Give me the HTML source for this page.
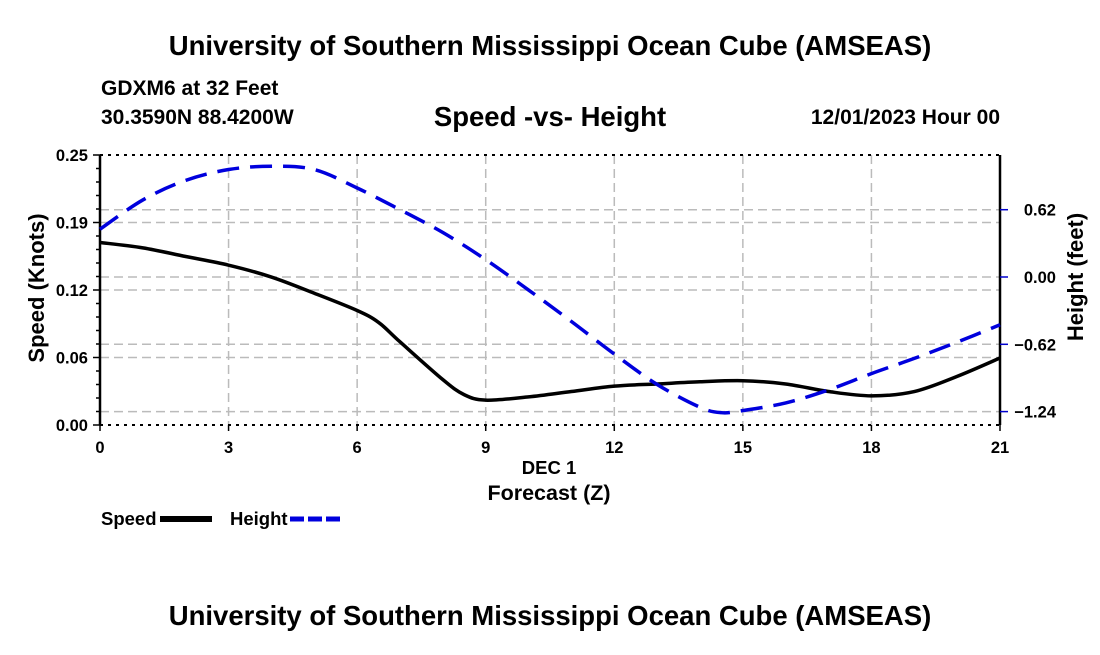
<!DOCTYPE html>
<html><head><meta charset="utf-8"><style>
body{margin:0;background:#fff}
svg text{font-family:"Liberation Sans",sans-serif;font-weight:bold}
</style></head><body>
<svg id="chart" width="1100" height="650" xmlns="http://www.w3.org/2000/svg">
<rect width="1100" height="650" fill="#fff"/>
<text x="550" y="55" font-size="27.5" text-anchor="middle">University of Southern Mississippi Ocean Cube (AMSEAS)</text>
<text x="101" y="95" font-size="21">GDXM6 at 32 Feet</text>
<text x="101" y="124" font-size="21">30.3590N  88.4200W</text>
<text x="550" y="126" font-size="27.5" text-anchor="middle">Speed -vs- Height</text>
<text x="1000" y="124" font-size="21" text-anchor="end">12/01/2023 Hour 00</text>
<g id="grid"></g>
<g id="axes"></g>
<g id="series"></g>
<text transform="translate(44,288) rotate(-90)" font-size="22" text-anchor="middle">Speed (Knots)</text>
<text transform="translate(1083,277) rotate(-90)" font-size="22" text-anchor="middle">Height (feet)</text>
<text x="549" y="474" font-size="18.5" text-anchor="middle">DEC 1</text>
<text x="549" y="500" font-size="21.5" text-anchor="middle">Forecast (Z)</text>
<g>
<text x="101" y="525" font-size="18.5">Speed</text>
<line x1="160" y1="519" x2="212" y2="519" stroke="#000" stroke-width="6"/>
<text x="230" y="525" font-size="18.5">Height</text>
<line x1="290" y1="519" x2="342" y2="519" stroke="#0000dd" stroke-width="5" stroke-dasharray="14,4"/>
</g>
<text x="550" y="625" font-size="27.5" text-anchor="middle">University of Southern Mississippi Ocean Cube (AMSEAS)</text>
</svg>
<script>
const hours=[0,1,2,3,4,5,6,6.5,7,8,8.5,9,10,11,12,13,14,15,16,17,18,19,20,21];
const speed=[0.169,0.164,0.156,0.148,0.137,0.122,0.106,0.095,0.077,0.042,0.028,0.023,0.026,0.031,0.036,0.038,0.040,0.041,0.038,0.031,0.027,0.031,0.045,0.062];
const hHours=[0,1,2,3,4,5,6,7,8,9,10,11,12,13,14,14.5,15,16,17,18,19,20,21];
const height=[0.44,0.71,0.89,0.99,1.02,0.99,0.82,0.62,0.41,0.16,-0.12,-0.41,-0.71,-0.99,-1.20,-1.25,-1.23,-1.16,-1.04,-0.89,-0.75,-0.60,-0.44];
const xTicks=[0,3,6,9,12,15,18,21];
const yTicks=[0,0.0625,0.125,0.1875,0.25];
const yTickLabels=["0.00","0.06","0.12","0.19","0.25"];
const y2Ticks=[0.62,0,-0.62,-1.24];
const y2TickLabels=["0.62","0.00","\u22120.62","\u22121.24"];
const L=100,R=1000,T=155,B=425;
const x=h=>L+(h/21)*(R-L);
const y=v=>B-(v/0.25)*(B-T);
const y2=v=>277-(v/0.62)*67.3;
const NS="http://www.w3.org/2000/svg";
function mk(tag,attrs,parent){const e=document.createElementNS(NS,tag);for(const k in attrs)e.setAttribute(k,attrs[k]);parent.appendChild(e);return e;}
const grid=document.getElementById('grid'),axes=document.getElementById('axes'),series=document.getElementById('series');
const gs={stroke:"#bbb","stroke-width":1.5,"stroke-dasharray":"9,5"};
xTicks.slice(1,-1).forEach(t=>{const l=mk('line',Object.assign({x1:x(t),x2:x(t),y1:T,y2:B},gs),grid);

});
yTicks.slice(1,-1).forEach(t=>{const l=mk('line',Object.assign({x1:L,x2:R,y1:y(t),y2:y(t)},gs),grid);

});
y2Ticks.forEach(t=>{const l=mk('line',Object.assign({x1:L,x2:R,y1:y2(t),y2:y2(t)},gs),grid);

});
[[L,T,L,B],[R,T,R,B]].forEach(a=>{const l=mk('line',{x1:a[0],y1:a[1],x2:a[2],y2:a[3],stroke:"#000","stroke-width":2.5},axes);

});
[T,B].forEach(yy=>{const l=mk('line',{x1:L,y1:yy,x2:R,y2:yy,stroke:"#000","stroke-width":2,"stroke-dasharray":"3,5"},axes);

});
for(let i=0;i<=20;i++){const v=i*0.0125;const l=mk('line',{x1:L-(i%5==0?7:4),x2:L,y1:y(v),y2:y(v),stroke:"#000","stroke-width":1.5},axes);

}
yTicks.forEach((t,i)=>{const e=mk('text',{x:L-12,y:y(t)+6,"font-size":16.5,"text-anchor":"end"},axes);e.textContent=yTickLabels[i];

});
xTicks.forEach(t=>{const tk=mk('line',{x1:x(t),x2:x(t),y1:B,y2:B+6,stroke:"#000","stroke-width":1.5},axes);


const e=mk('text',{x:x(t),y:B+28,"font-size":16.5,"text-anchor":"middle"},axes);e.textContent=t;

});
y2Ticks.forEach((t,i)=>{const tk=mk('line',{x1:R,x2:R+8,y1:y2(t),y2:y2(t),stroke:"#0000cc","stroke-width":1.5},axes);


const e=mk('text',{x:R+56,y:y2(t)+6,"font-size":16.5,"text-anchor":"end"},axes);e.textContent=y2TickLabels[i];

});
function smooth(pts){let d=`M${pts[0][0]},${pts[0][1]}`;for(let i=0;i<pts.length-1;i++){const p0=pts[i-1]||pts[i],p1=pts[i],p2=pts[i+1],p3=pts[i+2]||p2;
d+=` C${p1[0]+(p2[0]-p0[0])/6},${p1[1]+(p2[1]-p0[1])/6} ${p2[0]-(p3[0]-p1[0])/6},${p2[1]-(p3[1]-p1[1])/6} ${p2[0]},${p2[1]}`;}return d;}
const sp=mk('path',{d:smooth(hours.map((h,i)=>[x(h),y(speed[i])])),fill:"none",stroke:"#000","stroke-width":3.5},series);


const hp=mk('path',{d:smooth(hHours.map((h,i)=>[x(h),y2(height[i])])),fill:"none",stroke:"#0000dd","stroke-width":3.5,"stroke-dasharray":"22,11"},series);


</script>
</body></html>
